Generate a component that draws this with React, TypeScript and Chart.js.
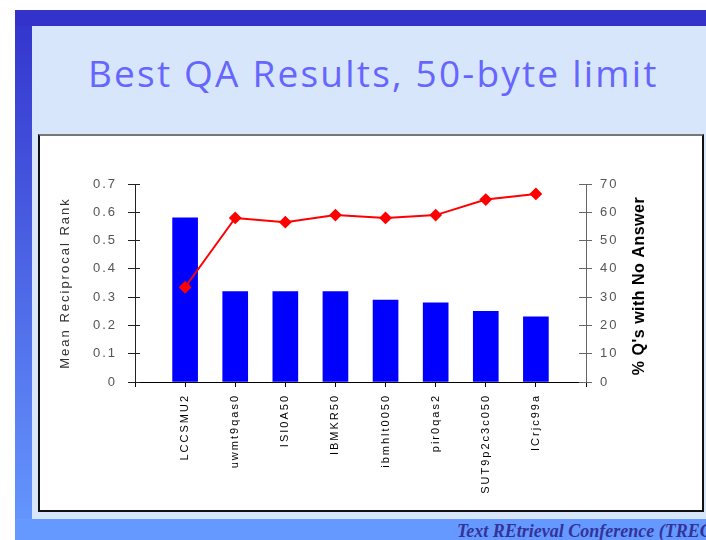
import React, { useEffect, useRef } from "react";
import { Chart, registerables } from "chart.js";

Chart.register(...registerables);

// ---- data ----
const categories = [
  "LCCSMU2",
  "uwmt9qas0",
  "ISI0A50",
  "IBMKR50",
  "ibmhlt0050",
  "pir0qas2",
  "SUT9p2c3c050",
  "ICrjc99a",
];
const meanReciprocalRank = [0.58, 0.32, 0.32, 0.32, 0.29, 0.28, 0.25, 0.23];
const pctNoAnswer = [33.5, 58, 56.5, 59, 58, 59, 64.5, 66.5];

const leftAxisMax = 0.7;
const leftAxisStep = 0.1;
const rightAxisMax = 70;
const rightAxisStep = 10;

const titleText = "Best QA Results, 50-byte limit";
const leftAxisTitle = "Mean Reciprocal Rank";
const rightAxisTitle = "% Q's with No Answer";
const footerText = "Text REtrieval Conference (TREC)";

const FONT = '"Liberation Sans", Arial, sans-serif';

const align = (p: number) => Math.round(p - 0.5) + 0.5;

const decorPlugin = {
  id: "decor",
  beforeLayout(chart: any) {
    chart.ctx.letterSpacing = "2px";
  },
  beforeDraw(chart: any) {
    chart.ctx.letterSpacing = "2px";
  },
  afterDraw(chart: any) {
    const ctx = chart.ctx as CanvasRenderingContext2D;
    const y = chart.scales.y;
    const y1 = chart.scales.y1;
    ctx.save();
    ctx.lineWidth = 1;
    ctx.strokeStyle = "#222";
    y.ticks.forEach((t: any) => {
      const py = align(y.getPixelForValue(t.value));
      ctx.beginPath();
      ctx.moveTo(y.right, py);
      ctx.lineTo(y.right + 5, py);
      ctx.stroke();
    });
    ctx.strokeStyle = "#666";
    y1.ticks.forEach((t: any) => {
      const py = align(y1.getPixelForValue(t.value));
      ctx.beginPath();
      ctx.moveTo(y1.left - 7, py);
      ctx.lineTo(y1.left, py);
      ctx.stroke();
    });
    // right axis title, reading bottom-to-top
    (ctx as any).letterSpacing = "0.5px";
    ctx.translate(y1.right - 62, (y1.top + y1.bottom) / 2 + 3);
    ctx.rotate(-Math.PI / 2);
    ctx.font = `bold 16px ${FONT}`;
    ctx.textAlign = "center";
    ctx.textBaseline = "middle";
    ctx.fillStyle = "#000";
    ctx.fillText(rightAxisTitle, 0, 0);
    ctx.restore();
    (ctx as any).letterSpacing = "0px";
  },
};

function ChartCanvas() {
  const ref = useRef<HTMLCanvasElement | null>(null);
  useEffect(() => {
    if (!ref.current) return;
    const chart = new Chart(ref.current, {
      type: "bar",
      data: {
        datasets: [
          {
            type: "line",
            label: rightAxisTitle,
            data: pctNoAnswer.map((v, i) => ({ x: i, y: v })),
            yAxisID: "y1",
            borderColor: "#ff0000",
            borderWidth: 2,
            pointStyle: "rectRot",
            pointRadius: 5,
            pointBackgroundColor: "#ff0000",
            pointBorderColor: "#ff0000",
            tension: 0,
            order: 1,
          } as any,
          {
            type: "bar",
            label: leftAxisTitle,
            data: meanReciprocalRank.map((v, i) => ({ x: i, y: v })),
            yAxisID: "y",
            backgroundColor: "#0000ff",
            borderWidth: 0,
            barThickness: 25,
            order: 2,
          } as any,
        ],
      },
      options: {
        responsive: false,
        animation: false,
        layout: { padding: { top: 48, left: 0, right: 0, bottom: 0 } },
        plugins: {
          legend: { display: false },
          tooltip: { enabled: false },
          title: { display: false },
        },
        scales: {
          x: {
            type: "linear",
            min: -1,
            max: categories.length,
            offset: false,
            afterFit: (s: any) => {
              s.height = 128;
            },
            ticks: {
              stepSize: 1,
              autoSkip: false,
              minRotation: 90,
              maxRotation: 90,
              padding: 7,
              color: "#000",
              font: { family: FONT, size: 11 },
              callback: (v: any) => {
                const n = Number(v);
                return Number.isInteger(n) && categories[n] ? categories[n] : "";
              },
            },
            grid: {
              display: true,
              offset: false,
              drawOnChartArea: false,
              drawTicks: true,
              tickLength: 5,
              color: "#000",
            },
            border: { display: true, color: "#000", width: 1 },
          },
          y: {
            type: "linear",
            position: "left",
            min: 0,
            max: leftAxisMax,
            afterFit: (s: any) => {
              s.width = 95;
            },
            ticks: {
              stepSize: leftAxisStep,
              padding: 11,
              color: "#555",
              font: { family: FONT, size: 13 },
            },
            grid: {
              drawOnChartArea: false,
              drawTicks: true,
              tickLength: 7,
              color: "#222",
            },
            border: { display: true, color: "#222", width: 1 },
            title: {
              display: true,
              text: leftAxisTitle,
              color: "#333",
              font: { family: FONT, size: 13 },
              padding: { top: 18, bottom: 0 },
            },
          },
          y1: {
            type: "linear",
            position: "right",
            min: 0,
            max: rightAxisMax,
            afterFit: (s: any) => {
              s.width = 116;
            },
            ticks: {
              stepSize: rightAxisStep,
              padding: 8,
              color: "#555",
              font: { family: FONT, size: 13 },
            },
            grid: {
              drawOnChartArea: false,
              drawTicks: true,
              tickLength: 6,
              color: "#666",
            },
            border: { display: true, color: "#666", width: 1 },
          },
        },
      } as any,
      plugins: [decorPlugin as any],
    });
    return () => chart.destroy();
  }, []);
  return <canvas ref={ref} width={662} height={374} style={{ display: "block" }} />;
}

export default function App() {
  return (
    <div
      style={{
        position: "absolute",
        left: 0,
        top: 0,
        width: 706,
        height: 540,
        background: "#fff",
        overflow: "hidden",
      }}
    >
      <div
        style={{
          position: "absolute",
          left: 15,
          top: 10,
          width: 691,
          height: 530,
          background: "linear-gradient(#3333cc, #6699ff)",
        }}
      />
      <div style={{ position: "absolute", left: 15, top: 10, width: 691, height: 16, background: "#3333cc" }} />
      <div style={{ position: "absolute", left: 15, top: 519, width: 691, height: 21, background: "#6699ff" }} />
      <div style={{ position: "absolute", left: 32, top: 26, width: 674, height: 493, background: "#d8e6fb" }} />
      <div
        style={{
          position: "absolute",
          left: 88,
          top: 55,
          fontFamily: '"Open Sans", sans-serif',
          fontSize: 37,
          lineHeight: "36px",
          letterSpacing: "2.2px",
          color: "#6666ff",
          whiteSpace: "nowrap",
        }}
      >
        {titleText}
      </div>
      <div
        style={{
          position: "absolute",
          left: 38,
          top: 134,
          width: 666,
          height: 378,
          boxSizing: "border-box",
          border: "2px solid #111",
          borderTopColor: "#777",
          background: "#fff",
        }}
      >
        <ChartCanvas />
      </div>
      <div
        style={{
          position: "absolute",
          left: 457,
          top: 522,
          fontFamily: '"Liberation Serif", "Times New Roman", serif',
          fontStyle: "italic",
          fontWeight: "bold",
          fontSize: 18,
          lineHeight: "18px",
          color: "#333399",
          whiteSpace: "nowrap",
        }}
      >
        {footerText}
      </div>
    </div>
  );
}
